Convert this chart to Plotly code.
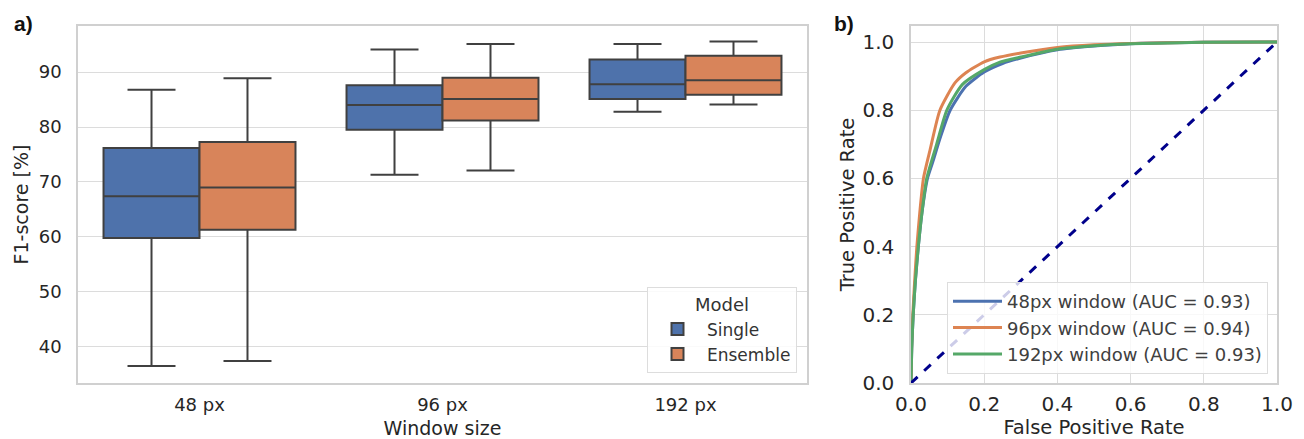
import plotly.graph_objects as go

# ---- Panel a data (box statistics, F1-score %) ----
window_sizes = ["48 px", "96 px", "192 px"]
single_low = [36.5, 71.3, 82.8]
single_q1 = [59.8, 79.5, 85.1]
single_med = [67.4, 84.0, 87.8]
single_q3 = [76.2, 87.6, 92.3]
single_high = [86.8, 94.1, 95.1]

ens_low = [37.4, 72.1, 84.1]
ens_q1 = [61.3, 81.2, 85.9]
ens_med = [69.0, 85.1, 88.5]
ens_q3 = [77.3, 89.0, 93.0]
ens_high = [88.9, 95.1, 95.6]

# ---- Panel b data (ROC curves) ----
fpr_48 = [0, 0.002, 0.006, 0.012, 0.02, 0.03, 0.045, 0.06, 0.08, 0.107, 0.15, 0.2, 0.25, 0.3, 0.4, 0.5, 0.6, 0.8, 1.0]
tpr_48 = [0, 0.1, 0.2, 0.3, 0.4, 0.5, 0.6, 0.65, 0.72, 0.8, 0.87, 0.912, 0.937, 0.953, 0.977, 0.988, 0.995, 0.999, 1.0]
fpr_96 = [0, 0.002, 0.005, 0.01, 0.016, 0.024, 0.034, 0.052, 0.079, 0.12, 0.15, 0.2, 0.243, 0.3, 0.4, 0.5, 0.6, 0.8, 1.0]
tpr_96 = [0, 0.12, 0.2, 0.3, 0.4, 0.5, 0.6, 0.683, 0.8, 0.88, 0.91, 0.942, 0.956, 0.968, 0.984, 0.992, 0.996, 0.999, 1.0]
fpr_192 = [0, 0.002, 0.006, 0.012, 0.02, 0.03, 0.043, 0.07, 0.098, 0.14, 0.2, 0.243, 0.3, 0.4, 0.5, 0.6, 0.8, 1.0]
tpr_192 = [0, 0.1, 0.2, 0.3, 0.4, 0.5, 0.6, 0.7, 0.8, 0.875, 0.919, 0.941, 0.956, 0.979, 0.989, 0.995, 0.999, 1.0]
roc_names = ["48px window (AUC = 0.93)", "96px window (AUC = 0.94)", "192px window (AUC = 0.93)"]
diag = [0, 1]

FONT = "DejaVu Sans"
TXT = "#262626"
GRID = "#dcdcdc"
EDGE = "#404040"

fig = go.Figure()

fig.add_trace(go.Box(
    x=window_sizes, q1=single_q1, median=single_med, q3=single_q3,
    lowerfence=single_low, upperfence=single_high,
    name="Single", fillcolor="#4e72ab", line=dict(color=EDGE, width=2),
    whiskerwidth=0.5, boxpoints=False, offsetgroup="s",
    xaxis="x", yaxis="y", legend="legend"))
fig.add_trace(go.Box(
    x=window_sizes, q1=ens_q1, median=ens_med, q3=ens_q3,
    lowerfence=ens_low, upperfence=ens_high,
    name="Ensemble", fillcolor="#d8845a", line=dict(color=EDGE, width=2),
    whiskerwidth=0.5, boxpoints=False, offsetgroup="e",
    xaxis="x", yaxis="y", legend="legend"))

roc_colors = ["#4c72b0", "#dd8452", "#55a868"]
for fx, ty, nm, c in zip([fpr_48, fpr_96, fpr_192], [tpr_48, tpr_96, tpr_192], roc_names, roc_colors):
    fig.add_trace(go.Scatter(x=fx, y=ty, mode="lines", name=nm,
                             line=dict(color=c, width=3, shape="spline", smoothing=0.6),
                             xaxis="x2", yaxis="y2", legend="legend2"))
fig.add_trace(go.Scatter(x=diag, y=diag, mode="lines", showlegend=False,
                         line=dict(color="#00008b", width=3, dash="dash"),
                         xaxis="x2", yaxis="y2"))

W, H = 1304, 439
ml, mr, mt, mb = 78, 27, 26, 56
pw = W - ml - mr
ph = H - mt - mb

def px(x):
    return (x - ml) / pw

def py(y):
    return (H - mb - y) / ph

axis_common = dict(showline=True, mirror=True, linecolor="#d0d0d0", linewidth=1.5,
                   gridcolor=GRID, gridwidth=1.2, zeroline=False,
                   ticks="outside", tickcolor="rgba(0,0,0,0)", automargin=False)

fig.update_layout(
    width=W, height=H,
    margin=dict(l=ml, r=mr, t=mt, b=mb),
    paper_bgcolor="white", plot_bgcolor="white",
    font=dict(family=FONT, color=TXT),
    boxmode="group", boxgap=0.21, boxgroupgap=0.0,
    xaxis=dict(domain=[0, px(807)], type="category", range=[-0.5, 2.5],
               showgrid=False, ticklen=5, tickfont=dict(size=18),
               title=dict(text="Window size", font=dict(size=19), standoff=12),
               **axis_common),
    yaxis=dict(domain=[0, 1], range=[33.4, 98.4], tickvals=[40, 50, 60, 70, 80, 90],
               showgrid=True, ticklen=11, tickfont=dict(size=18),
               title=dict(text="F1-score [%]", font=dict(size=19), standoff=5),
               **axis_common),
    xaxis2=dict(domain=[px(911), 1], range=[0, 1], tickvals=[0, 0.2, 0.4, 0.6, 0.8, 1.0],
                tickformat=".1f", showgrid=True, ticklen=2, tickfont=dict(size=20),
                title=dict(text="False Positive Rate", font=dict(size=19.5), standoff=12),
                anchor="y2", **axis_common),
    yaxis2=dict(domain=[0, 1], range=[0, 1.047], tickvals=[0, 0.2, 0.4, 0.6, 0.8, 1.0],
                tickformat=".1f", showgrid=True, ticklen=11, tickfont=dict(size=20),
                title=dict(text="True Positive Rate", font=dict(size=19.5), standoff=3),
                anchor="x2", **axis_common),
    legend=dict(x=px(797), y=py(373), xanchor="right", yanchor="bottom",
                bgcolor="rgba(255,255,255,0.85)", bordercolor="#dddddd", borderwidth=1,
                font=dict(size=17, color="#333333"), itemwidth=49,
                title=dict(text="Model", side="top center", font=dict(size=18, color="#333333")),
                tracegroupgap=2),
    legend2=dict(x=px(1268), y=py(374), xanchor="right", yanchor="bottom",
                 bgcolor="rgba(255,255,255,0.8)", bordercolor="#dddddd", borderwidth=1,
                 itemwidth=49, font=dict(size=18, color="#404040")),
    annotations=[
        dict(text="<b>a)</b>", x=px(12), y=py(10), xref="paper", yref="paper",
             xanchor="left", yanchor="top", showarrow=False,
             font=dict(family="Liberation Sans", size=21, color="#111111")),
        dict(text="<b>b)</b>", x=px(832), y=py(10), xref="paper", yref="paper",
             xanchor="left", yanchor="top", showarrow=False,
             font=dict(family="Liberation Sans", size=21, color="#111111")),
    ],
)

fig.write_html("out.html", config={"displayModeBar": False},
               post_script="document.body.style.margin='0';document.body.style.padding='0';")
